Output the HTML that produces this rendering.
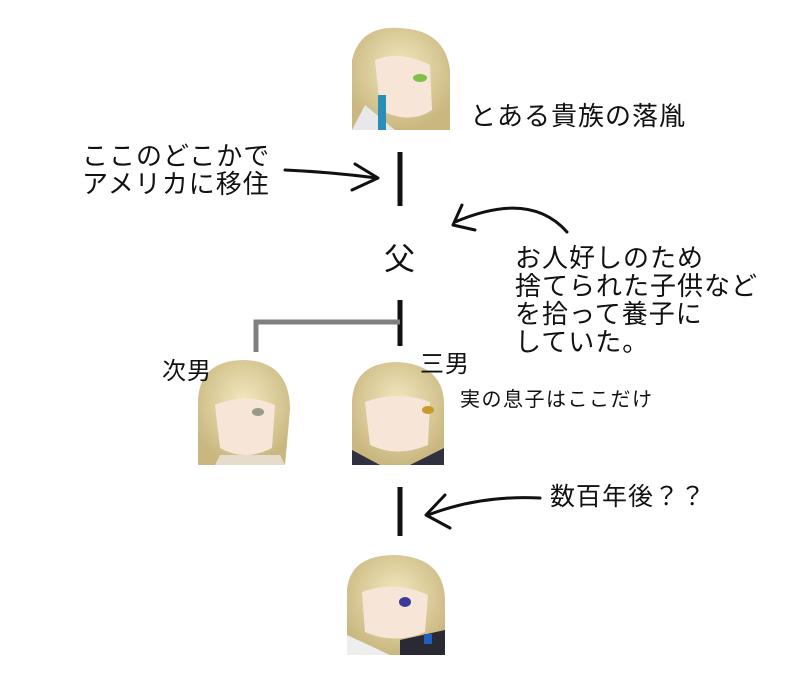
<!DOCTYPE html>
<html><head><meta charset="utf-8">
<style>
html,body{margin:0;padding:0;background:#fff;}
body{width:799px;height:685px;overflow:hidden;position:relative;font-family:"Liberation Sans","Noto Sans CJK JP",sans-serif;color:#111;}
.t{position:absolute;white-space:nowrap;line-height:1.15;}
svg{position:absolute;left:0;top:0;}
</style></head><body>
<svg width="799" height="685" viewBox="0 0 799 685">
<defs>
<radialGradient id="hair" cx="50%" cy="40%" r="60%">
<stop offset="0" stop-color="#f3e8bf"/><stop offset="1" stop-color="#c9b77f"/></radialGradient>
</defs>
<g>
<path d="M352 60 Q360 25 400 28 Q445 30 450 70 L450 130 L352 130 Z" fill="url(#hair)"/>
<path d="M375 60 Q400 50 430 65 L432 110 Q410 125 380 110 Z" fill="#f7e6d8"/>
<path d="M365 105 L395 130 L352 130 Z" fill="#e8e8ea"/>
<rect x="378" y="95" width="8" height="35" fill="#2a8fb8"/>
<ellipse cx="420" cy="78" rx="7" ry="4" fill="#7fbf4a"/>
</g>
<g>
<path d="M198 400 Q200 360 245 360 Q290 362 290 410 L285 465 L198 465 Z" fill="url(#hair)"/>
<path d="M215 405 Q245 392 275 405 L272 448 Q245 462 220 448 Z" fill="#f7e6d8"/>
<ellipse cx="258" cy="412" rx="6" ry="4" fill="#9a9a8a"/>
<path d="M220 455 L280 455 L285 465 L215 465Z" fill="#e6dccb"/>
</g>
<g>
<path d="M352 400 Q355 362 398 362 Q444 365 444 405 L444 465 L352 465 Z" fill="url(#hair)"/>
<path d="M365 402 Q398 390 430 402 L428 445 Q398 458 370 445 Z" fill="#f7e6d8"/>
<ellipse cx="428" cy="410" rx="6" ry="4" fill="#c99a2a"/>
<path d="M352 450 L380 465 L352 465Z M444 448 L410 465 L444 465Z" fill="#2f3040"/>
</g>
<g>
<path d="M347 590 Q350 555 395 555 Q444 557 445 600 L445 655 L347 655 Z" fill="url(#hair)"/>
<path d="M362 592 Q395 580 428 595 L425 632 Q395 645 365 632 Z" fill="#f7e6d8"/>
<ellipse cx="405" cy="602" rx="6" ry="5" fill="#3a3a9a"/>
<path d="M347 635 L390 655 L347 655Z" fill="#eeeeee"/>
<path d="M400 640 L445 630 L445 655 L400 655Z" fill="#2a2a35"/>
<rect x="424" y="634" width="8" height="10" fill="#1f5fc0"/>
</g>
<g stroke="#111" stroke-width="5" fill="none" stroke-linecap="butt">
<line x1="400" y1="152" x2="400" y2="206"/>
<line x1="400" y1="300" x2="400" y2="346"/>
<line x1="400" y1="487" x2="400" y2="536"/>
</g>
<path d="M256 352 L256 322 L400 322" stroke="#808080" stroke-width="5" fill="none"/>
<g stroke="#111" stroke-width="3" fill="none" stroke-linecap="round" stroke-linejoin="round">
<path d="M285 170 Q330 172 377 178"/>
<path d="M355 164 L378 178 L352 190"/>
<path d="M567 232 Q530 190 455 222"/>
<path d="M462 205 L453 225 L475 230"/>
<path d="M540 498 Q480 495 428 515"/>
<path d="M445 495 L426 515 L450 528"/>
</g>
</svg>
<div class="t" style="left:470px;top:102px;font-size:26px;letter-spacing:1px;">とある貴族の落胤</div>
<div class="t" style="left:82px;top:142px;font-size:26px;letter-spacing:1px;line-height:28px;">ここのどこかで<br>アメリカに移住</div>
<div class="t" style="left:384px;top:242px;font-size:31px;">父</div>
<div class="t" style="left:515px;top:244px;font-size:26px;letter-spacing:1px;line-height:28px;">お人好しのため<br>捨てられた子供など<br>を拾って養子に<br>していた。</div>
<div class="t" style="left:162px;top:358px;font-size:24px;letter-spacing:1px;">次男</div>
<div class="t" style="left:420px;top:351px;font-size:24px;letter-spacing:1px;">三男</div>
<div class="t" style="left:460px;top:389px;font-size:20px;letter-spacing:1.5px;">実の息子はここだけ</div>
<div class="t" style="left:550px;top:483px;font-size:25px;letter-spacing:1px;">数百年後？？</div>
</body></html>
